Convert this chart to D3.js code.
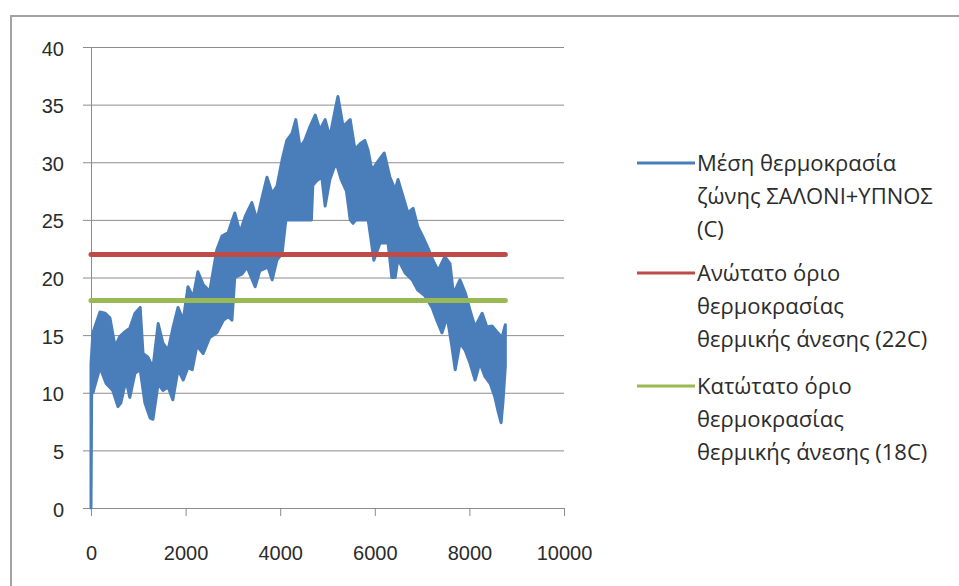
<!DOCTYPE html>
<html>
<head>
<meta charset="utf-8">
<script src="https://cdn.jsdelivr.net/npm/d3@7"></script>
<style>
  body { margin: 0; background: #fff; }
  svg { display: block; font-family: 'Open Sans', sans-serif; }
</style>
</head>
<body>
<svg id="chart"></svg>
<script>
const d3 = window.d3

const upperHours = [0, 40, 190, 300, 400, 510, 610, 720, 820, 930, 1040, 1100, 1200, 1310, 1420, 1520, 1630, 1730, 1840, 1950,
  2050, 2160, 2260, 2370, 2510, 2660, 2770, 2900, 3040, 3150, 3260, 3400, 3510, 3620, 3720, 3830, 3930, 4040, 4140, 4250,
  4330, 4420, 4520, 4630, 4740, 4840, 4950, 5050, 5160, 5220, 5330, 5480, 5580, 5690, 5790, 5860, 5940, 6070, 6200, 6320,
  6430, 6490, 6600, 6700, 6810, 6910, 7020, 7120, 7230, 7340, 7480, 7590, 7650, 7700, 7800, 7910, 8010, 8120, 8270, 8370,
  8480, 8580, 8690, 8760]
const upperTemps = [12.5, 15.2, 17.0, 16.9, 16.5, 14.0, 14.9, 15.3, 15.6, 16.9, 17.4, 13.4, 13.1, 12.2, 16.0, 14.3, 13.7, 15.6, 17.4, 16.3,
  19.2, 18.3, 20.5, 19.4, 18.8, 22.4, 23.6, 23.9, 25.6, 23.9, 25.3, 26.5, 25.0, 27.0, 28.7, 27.3, 27.9, 30.2, 31.9, 32.5,
  33.7, 31.3, 31.9, 33.1, 34.1, 32.8, 33.7, 32.2, 34.5, 35.7, 33.1, 33.7, 31.1, 31.6, 31.9, 31.0, 29.3, 30.1, 30.8, 28.7,
  27.6, 28.5, 27.0, 25.6, 26.0, 24.4, 23.5, 22.6, 21.5, 20.6, 21.8, 21.2, 19.0, 18.9, 19.8, 18.7, 17.2, 15.7, 16.9, 15.7,
  15.8, 15.3, 14.8, 15.9]
const lowerHours = [0, 15, 40, 190, 320, 460, 570, 630, 740, 820, 930, 1040, 1140, 1250, 1310, 1420, 1520, 1630, 1730, 1840,
  1950, 2050, 2140, 2240, 2370, 2510, 2660, 2800, 2900, 2980, 3040, 3190, 3300, 3470, 3570, 3740, 3830, 3930, 4040, 4120,
  4660, 4690, 4770, 4880, 4950, 5050, 5180, 5290, 5400, 5480, 5540, 5600, 5860, 5920, 5980, 6110, 6280, 6360, 6430, 6490,
  6640, 6790, 6910, 7060, 7210, 7310, 7420, 7530, 7630, 7700, 7800, 7910, 8010, 8120, 8220, 8330, 8440, 8540, 8600, 8670,
  8710, 8760]
const lowerTemps = [0, 10.5, 10.0, 12.2, 10.8, 10.2, 8.8, 9.1, 11.1, 9.6, 11.7, 12.0, 9.1, 7.8, 7.7, 10.8, 10.2, 10.5, 9.4, 12.0,
  11.1, 12.2, 12.0, 14.1, 13.4, 14.8, 15.2, 16.3, 16.6, 16.3, 20.0, 20.3, 20.9, 19.2, 20.6, 20.9, 19.8, 21.5, 22.1, 25.0,
  25.0, 28.0, 28.4, 28.7, 26.2, 28.5, 30.0, 28.5, 27.5, 25.0, 24.7, 25.0, 25.0, 23.3, 21.5, 23.0, 23.0, 20.0, 20.0, 21.6,
  20.4, 19.8, 18.9, 18.4, 17.4, 16.3, 15.2, 16.6, 14.0, 12.0, 14.3, 13.7, 12.6, 11.1, 12.6, 11.4, 10.8, 9.6, 8.5, 7.4,
  9.2, 12.3]

const limitHours = [0, 8760]
const upperLimit = 22 // C
const lowerLimit = 18 // C

const xTicks = [0, 2000, 4000, 6000, 8000, 10000]
const yTicks = [0, 5, 10, 15, 20, 25, 30, 35, 40]

const legendNames = [
  ['Μέση θερμοκρασία', 'ζώνης ΣΑΛΟΝΙ+ΥΠΝΟΣ', '(C)'],
  ['Ανώτατο όριο', 'θερμοκρασίας', 'θερμικής άνεσης (22C)'],
  ['Κατώτατο όριο', 'θερμοκρασίας', 'θερμικής άνεσης (18C)']
]

const colors = ['#4a7ebb', '#be4b48', '#98b954']

const svgWidth = 959
const svgHeight = 586
const svg = d3.select('#chart').attr('width', svgWidth).attr('height', svgHeight)

// chart frame
svg.append('rect')
  .attr('x', 11).attr('y', 16)
  .attr('width', 1000).attr('height', 700)
  .attr('fill', 'none')
  .attr('stroke', '#a3a3a3')
  .attr('stroke-width', 2)

const x = d3.scaleLinear().domain([0, 10000]).range([91, 564])
const y = d3.scaleLinear().domain([0, 40]).range([508, 47])

// gridlines
svg.append('g')
  .attr('transform', `translate(${x(0)},0)`)
  .call(d3.axisLeft(y).tickValues(yTicks).tickSize(-(x(10000) - x(0))).tickFormat(''))
  .call(g => g.select('.domain').remove())
  .call(g => g.selectAll('line').attr('stroke', '#8c8c8c'))

// y axis
svg.append('g')
  .attr('transform', `translate(${x(0)},0)`)
  .call(d3.axisLeft(y).tickValues(yTicks).tickSize(8).tickSizeOuter(0).tickPadding(19))
  .call(g => g.select('.domain').attr('stroke', '#8c8c8c'))
  .call(g => g.selectAll('line').attr('stroke', '#8c8c8c'))
  .call(g => g.selectAll('text').attr('font-size', 20).attr('fill', '#2b2b2b').attr('dy', '0.4em'))

// x axis
svg.append('g')
  .attr('transform', `translate(0,${y(0)})`)
  .call(d3.axisBottom(x).tickValues(xTicks).tickSize(8).tickSizeOuter(0).tickPadding(30).tickFormat(d3.format('d')))
  .call(g => g.select('.domain').attr('stroke', '#8c8c8c'))
  .call(g => g.selectAll('line').attr('stroke', '#8c8c8c'))
  .call(g => g.selectAll('text').attr('font-size', 20).attr('fill', '#2b2b2b'))

// dense hourly trace drawn as the band between its edges
const upperPts = upperHours.map((h, i) => [h, upperTemps[i]])
const lowerPts = lowerHours.map((h, i) => [h, lowerTemps[i]]).reverse()
const outline = d3.line().x(d => x(d[0])).y(d => y(d[1]))
svg.append('path')
  .attr('d', outline(upperPts.concat(lowerPts)) + 'Z')
  .attr('fill', colors[0])
  .attr('stroke', colors[0])
  .attr('stroke-width', 3)
  .attr('stroke-linejoin', 'round')

// comfort limits
;[upperLimit, lowerLimit].forEach((v, i) => {
  svg.append('path')
    .attr('d', d3.line().x(d => x(d)).y(() => y(v))(limitHours))
    .attr('fill', 'none')
    .attr('stroke', colors[i + 1])
    .attr('stroke-width', 5)
    .attr('stroke-linecap', 'round')
})

// legend
const legendTop = [163, 273, 386]
const lineGap = 33
legendNames.forEach((lines, i) => {
  const g = svg.append('g').attr('transform', `translate(0,${legendTop[i]})`)
  g.append('line')
    .attr('x1', 637).attr('x2', 695)
    .attr('stroke', colors[i])
    .attr('stroke-width', 3)
  lines.forEach((t, j) => {
    g.append('text')
      .attr('x', 697)
      .attr('y', j * lineGap)
      .attr('dy', '0.35em')
      .attr('font-size', 22)
      .attr('fill', '#2b2b2b')
      .text(t)
  })
})
</script>
</body>
</html>
